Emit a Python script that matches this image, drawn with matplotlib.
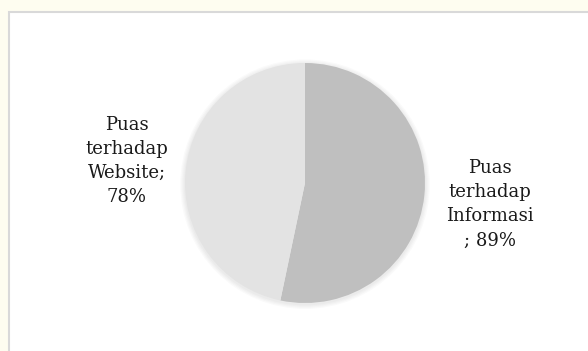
import matplotlib
matplotlib.use('Agg')
import matplotlib.pyplot as plt
from matplotlib.patches import Rectangle

# ================= DATA =================
labels = ['Puas\nterhadap\nInformasi\n; 89%', 'Puas\nterhadap\nWebsite;\n78%']
values = [89, 78]
colors = ['#bfbfbf', '#e3e3e3']

W, H = 588, 351
fig = plt.figure(figsize=(W / 100, H / 100), dpi=100)
fig.patch.set_facecolor('#fefdf0')

# white chart area with grey border (top/left visible)
fig.patches.append(Rectangle((9 / W, -0.1), 1.1, (H - 12) / H + 0.1, transform=fig.transFigure,
                             facecolor='white', edgecolor='#d9d9d9', linewidth=1.5,
                             zorder=-5))

# pie axes: centre (305, 183) px, radius 120 px
cx, cy, r = 305, 183, 120
half = 130
ax = fig.add_axes([(cx - half) / W, (H - cy - half) / H, 2 * half / W, 2 * half / H])

# soft shadow
for k in range(4):
    ax.add_patch(plt.Circle((0, -0.01), 1 + 0.01 * (k + 1), color='black', alpha=0.02, lw=0))

ax.pie(values, colors=colors, startangle=90, counterclock=False, radius=1,
       wedgeprops=dict(linewidth=0))
ax.set_xlim(-half / r, half / r)
ax.set_ylim(-half / r, half / r)
ax.axis('off')

font = dict(family='DejaVu Serif', fontsize=13, color='#1a1a1a',
            ha='center', va='center', linespacing=1.45)
fig.text(490 / W, 1 - 204 / H, labels[0], **font)
fig.text(127 / W, 1 - 161 / H, labels[1], **font)

plt.savefig('out.png', dpi=100, facecolor=fig.get_facecolor())
